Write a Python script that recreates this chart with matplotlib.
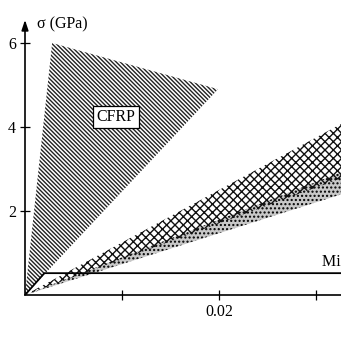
import matplotlib.pyplot as plt
from matplotlib.patches import Polygon

plt.rcParams['font.family'] = ['Liberation Serif', 'DejaVu Serif']
plt.rcParams['hatch.linewidth'] = 1.0

# strain / stress (GPa) outlines
cfrp_strain = [0.0, 0.0028, 0.0199]
cfrp_stress = [0.0, 6.0, 4.9]

cross_strain = [0.0, 0.034, 0.034]
cross_stress = [0.0, 4.25, 2.9]

dot_strain = [0.0, 0.034, 0.034]
dot_stress = [0.0, 3.05, 2.5]

steel_strain = [0.0, 0.002, 0.04]
steel_stress = [0.0, 0.52, 0.52]

yticks = [2, 4, 6]
xticks = [0.01, 0.02, 0.03]
xticklabels = ['', '0.02', '']

fig = plt.figure(figsize=(3.41, 3.38), dpi=100)
ax = fig.add_axes([25 / 341, 43 / 338, 316 / 341, 295 / 338])
ax.set_xlim(0, 316 / 9700)
ax.set_ylim(0, 295 / 42)

ax.add_patch(Polygon(list(zip(cfrp_strain, cfrp_stress)), closed=True,
                     facecolor='white', edgecolor='#222222', hatch='\\' * 8, lw=0))
ax.add_patch(Polygon(list(zip(dot_strain, dot_stress)), closed=True,
                     facecolor='#c8c8c8', edgecolor='black', hatch='.' * 4, lw=0))
ax.add_patch(Polygon(list(zip(cross_strain, cross_stress)), closed=True,
                     facecolor='none', edgecolor='#111111', hatch='x' * 4, lw=0))

ax.plot(steel_strain, steel_stress, color='black', lw=1.3, clip_on=True)

ax.text(0.00938, 4.24, 'CFRP', ha='center', va='center', fontsize=11.5,
        bbox=dict(boxstyle='square,pad=0.2', facecolor='white', edgecolor='black', lw=0.9))
ax.text(0.0306, 0.6, 'Mild steel', ha='left', va='bottom', fontsize=11.5, clip_on=False)

# axes
for s in ['top', 'right', 'left']:
    ax.spines[s].set_visible(False)
ax.spines['bottom'].set_linewidth(1.2)
ax.annotate('', xy=(0, 6.55), xytext=(0, 0), annotation_clip=False,
            arrowprops=dict(arrowstyle='-|>,head_length=0.6,head_width=0.2',
                            color='black', lw=1.2, shrinkA=0, shrinkB=0))
ax.text(0.0012, 6.45, 'σ (GPa)', ha='left', va='center', fontsize=11.5)

ax.set_yticks(yticks)
ax.set_yticklabels([str(v) for v in yticks])
ax.set_xticks(xticks)
ax.set_xticklabels(xticklabels)
ax.tick_params(direction='inout', length=7, width=0.9, labelsize=11.5, pad=3)

fig.savefig('out.png', dpi=100)
